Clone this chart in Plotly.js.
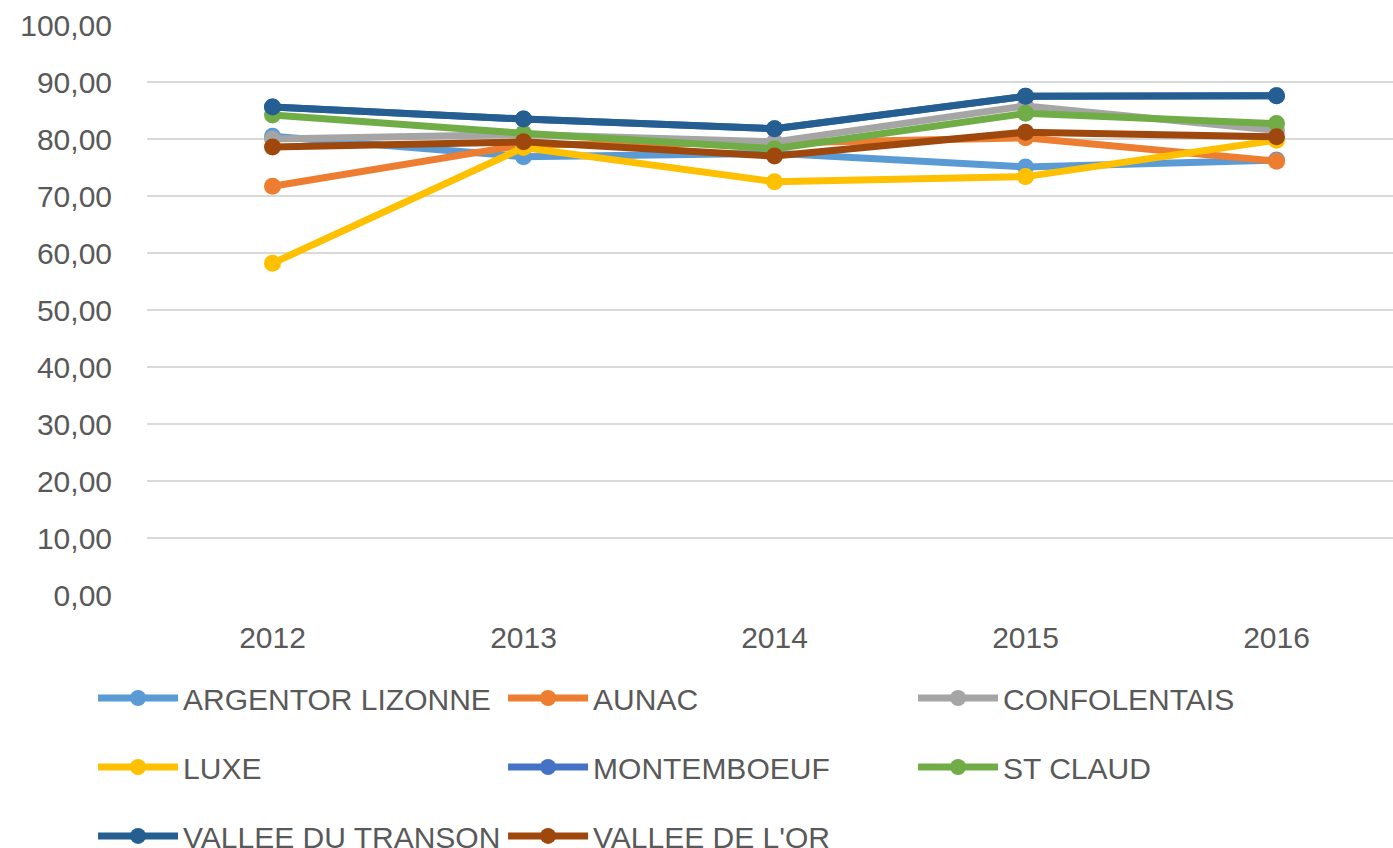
<!DOCTYPE html>
<html><head><meta charset="utf-8">
<script src="https://cdn.plot.ly/plotly-3.0.1.min.js"></script>
<style>html,body{margin:0;padding:0;background:#fff;}#chart{width:1393px;height:848px;}</style>
</head><body><div id="chart"></div>
<script>
const years = ['2012','2013','2014','2015','2016'];
const seriesNames = ['ARGENTOR LIZONNE','AUNAC','CONFOLENTAIS','LUXE','MONTEMBOEUF','ST CLAUD','VALLEE DU TRANSON',"VALLEE DE L'OR"];
const argentor = [80.5, 76.9, 77.5, 75.1, 76.3];
const aunac = [71.7, 79.0, 79.3, 80.2, 76.1];
const confolentais = [80.0, 80.8, 79.5, 85.8, 81.5];
const luxe = [58.2, 78.5, 72.5, 73.4, 79.8];
const montemboeuf = [85.6, 83.5, 81.8, 87.5, 87.6];
const stClaud = [84.2, 81.0, 78.3, 84.5, 82.7];
const transon = [85.6, 83.5, 81.8, 87.5, 87.6];
const valleeOr = [78.6, 79.5, 77.0, 81.2, 80.4];
const colors = ['#5B9BD5','#ED7D31','#A5A5A5','#FFC000','#4472C4','#70AD47','#255E91','#9E480E'];
const allValues = [argentor, aunac, confolentais, luxe, montemboeuf, stClaud, transon, valleeOr];
const legendOf = ['legend','legend','legend','legend2','legend2','legend2','legend3','legend3'];

const traces = allValues.map((v,i)=>({
  type:'scatter', mode:'lines+markers', x:years, y:v, name:seriesNames[i],
  line:{color:colors[i], width:7}, marker:{color:colors[i], size:17},
  legend: legendOf[i], hoverinfo:'x+y+name'
}));

const lf = {family:'Liberation Sans, Arial, sans-serif', size:30, color:'#595959'};
const legBase = {orientation:'h', xanchor:'left', yanchor:'middle', xref:'container', yref:'container', x:0.0668, entrywidth:315, entrywidthmode:'pixels', itemwidth:80, font:lf, bgcolor:'rgba(0,0,0,0)', itemclick:false, itemdoubleclick:false};

const layout = {
  width:1393, height:848,
  margin:{l:147, r:0, t:25, b:253},
  paper_bgcolor:'#fff', plot_bgcolor:'#fff',
  separators:', ',
  showlegend:true,
  font:lf,
  xaxis:{type:'category', range:[-0.5, 4.464], showgrid:false, zeroline:false, showline:false, ticks:'', tickfont:lf, ticklabelstandoff:22, fixedrange:true},
  yaxis:{range:[0,100], dtick:10, tickformat:'.2f', showgrid:true, gridcolor:'#D9D9D9', gridwidth:2, zeroline:false, showline:false, ticks:'', tickfont:lf, ticklabelstandoff:34, fixedrange:true},
  legend:Object.assign({}, legBase, {y:0.1769}),
  legend2:Object.assign({}, legBase, {y:0.0955}),
  legend3:Object.assign({}, legBase, {y:0.0142})
};
Plotly.newPlot('chart', traces, layout, {displayModeBar:false, staticPlot:false});
</script></body></html>
